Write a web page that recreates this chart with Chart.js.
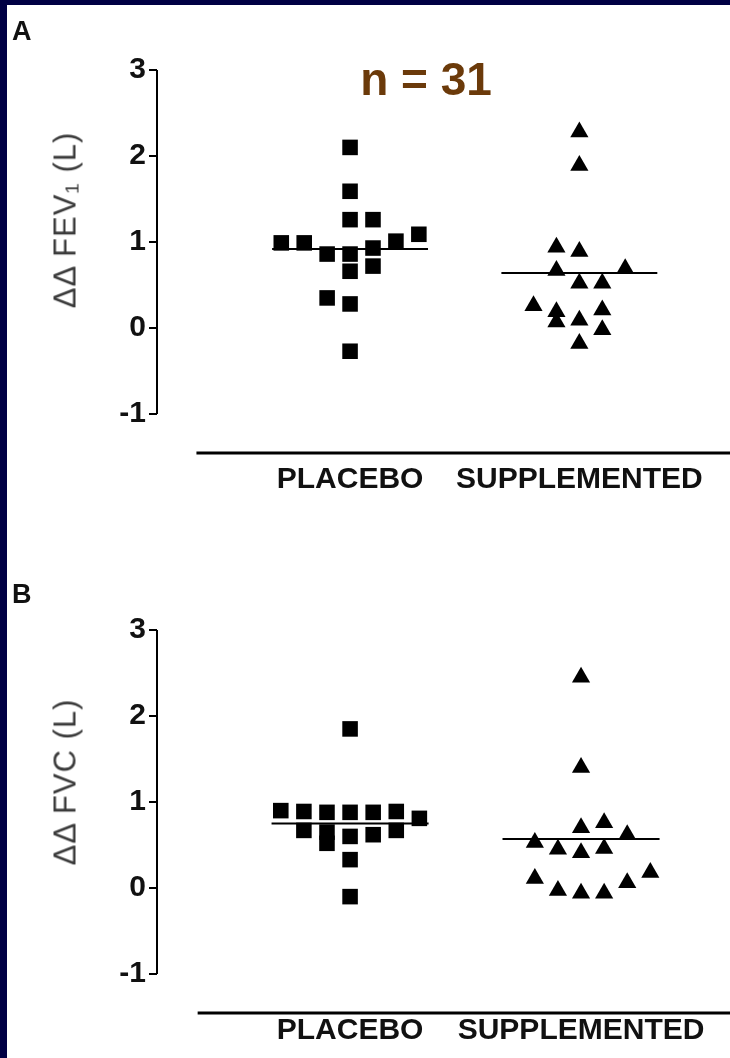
<!DOCTYPE html>
<html lang="en">
<head>
  <meta charset="UTF-8" />
  <title>FEV1 / FVC change</title>
  <script src="https://cdn.jsdelivr.net/npm/chart.js"></script>
  <style>
    body {
      margin: 0;
      background: #000044;
      font-family: "Liberation Sans", Arial, sans-serif;
    }
    #sheet {
      position: absolute;
      left: 7px;
      top: 5px;
      width: 723px;
      height: 1053px;
      background: #fff;
      overflow: hidden;
    }
    .panel { position: absolute; left: 0; }
    .tag {
      position: absolute;
      font-weight: bold;
      font-size: 27px;
      line-height: 1;
      color: #111;
    }
    .ytitle {
      position: absolute;
      white-space: nowrap;
      font-size: 31px;
      letter-spacing: 1px;
      line-height: 1;
      color: #3a3a3a;
      transform: translate(-50%, -50%) rotate(-90deg);
    }
    #nlabel {
      position: absolute;
      left: 319px;
      top: 51px;
      width: 200px;
      text-align: center;
      font-weight: bold;
      font-size: 46px;
      line-height: 1;
      color: #6b3a0a;
    }
  </style>
</head>
<body>
<div id="sheet">
  <canvas id="fevChart" class="panel" style="top:0" width="723" height="520"></canvas>
  <canvas id="fvcChart" class="panel" style="top:520px" width="723" height="533"></canvas>

  <div class="tag" style="left:5px; top:13px;">A</div>
  <div class="tag" style="left:5px; top:576px;">B</div>
  <div id="nlabel">n = 31</div>
  <div class="ytitle" style="left:58px; top:215px;">ΔΔ FEV₁ (L)</div>
  <div class="ytitle" style="left:58px; top:777px;">ΔΔ FVC (L)</div>
</div>

<script>
const groups = ["PLACEBO", "SUPPLEMENTED"];
const yTicks = [-1, 0, 1, 2, 3];

// panel A - FEV1 (x = group position + scatter offset)
const fevPlaceboX = [1.0, 1.0, 1.0, 1.1, 1.3, 0.7, 0.8, 1.2, 0.9, 1.0, 1.1, 1.1, 1.0, 0.9, 1.0, 1.0];
const fevPlaceboY = [2.10, 1.59, 1.26, 1.26, 1.09, 0.99, 0.99, 1.01, 0.86, 0.86, 0.93, 0.72, 0.66, 0.35, 0.28, -0.27];
const fevSuppX = [2.0, 2.0, 1.9, 2.0, 1.9, 2.2, 2.0, 2.1, 1.8, 1.9, 1.9, 2.1, 2.0, 2.1, 2.0];
const fevSuppY = [2.28, 1.89, 0.94, 0.89, 0.67, 0.69, 0.52, 0.52, 0.26, 0.19, 0.07, 0.21, 0.09, -0.02, -0.18];
const fevMeans = [0.92, 0.64];

// panel B - FVC
const fvcPlaceboX = [1.0, 0.7, 0.8, 0.9, 1.0, 1.1, 1.2, 1.3, 0.8, 0.9, 1.0, 1.1, 1.2, 0.9, 1.0, 1.0];
const fvcPlaceboY = [1.85, 0.90, 0.89, 0.88, 0.88, 0.88, 0.89, 0.81, 0.67, 0.65, 0.60, 0.62, 0.67, 0.52, 0.33, -0.10];
const fvcSuppX = [2.0, 2.0, 2.0, 2.1, 2.2, 1.8, 1.9, 2.0, 2.1, 1.8, 1.9, 2.0, 2.1, 2.2, 2.3];
const fvcSuppY = [2.45, 1.40, 0.70, 0.76, 0.62, 0.53, 0.45, 0.41, 0.46, 0.11, -0.03, -0.06, -0.06, 0.06, 0.18];
const fvcMeans = [0.75, 0.57];

const meanHalf = 0.34;

function pts(xs, ys) {
  return xs.map((x, i) => ({ x: x, y: ys[i] }));
}

// y axis only spans the tick range, the baseline stands apart from it (Prism style)
const axisLines = {
  id: 'axisLines',
  afterDraw(chart, args, opts) {
    const { ctx, chartArea, scales } = chart;
    ctx.save();
    ctx.strokeStyle = '#000';
    ctx.lineWidth = 2;
    ctx.beginPath();
    ctx.moveTo(chartArea.left, scales.y.getPixelForValue(yTicks[yTicks.length - 1]));
    ctx.lineTo(chartArea.left, scales.y.getPixelForValue(yTicks[0]));
    ctx.stroke();
    ctx.lineWidth = 3;
    ctx.beginPath();
    ctx.moveTo(scales.x.getPixelForValue(opts.baseStart), chartArea.bottom);
    ctx.lineTo(chart.width, chartArea.bottom);
    ctx.stroke();
    ctx.restore();
  }
};

function makePanel(id, placebo, supp, means, lay) {
  const meanSets = means.map((m, i) => ({
    data: [{ x: i + 1 - meanHalf, y: m }, { x: i + 1 + meanHalf, y: m }],
    showLine: true,
    borderColor: '#000',
    borderWidth: 2,
    pointRadius: 0,
    clip: false
  }));
  return new Chart(document.getElementById(id), {
    type: 'scatter',
    data: {
      datasets: [
        ...meanSets,
        {
          data: placebo,
          pointStyle: 'rect',
          pointRadius: 11,
          backgroundColor: '#000',
          borderWidth: 0,
          clip: false
        },
        {
          data: supp,
          pointStyle: 'triangle',
          pointRadius: 10.5,
          backgroundColor: '#000',
          borderWidth: 0,
          clip: false
        }
      ]
    },
    options: {
      responsive: false,
      animation: false,
      layout: { autoPadding: false, padding: { top: lay.top, left: 0, right: 0, bottom: 0 } },
      plugins: {
        legend: { display: false },
        tooltip: { enabled: false },
        axisLines: { baseStart: lay.baseStart }
      },
      scales: {
        x: {
          type: 'linear',
          min: lay.xMin,
          max: lay.xMax,
          afterFit: s => { s.height = lay.xHeight; },
          afterBuildTicks: s => { s.ticks = groups.map((g, i) => ({ value: i + 1 })); },
          border: { display: false },
          grid: { display: false, drawTicks: false },
          ticks: {
            autoSkip: false,
            maxRotation: 0,
            padding: lay.labelPad,
            color: '#111',
            font: { family: 'Liberation Sans', size: 30, weight: 'bold' },
            callback: (v, i) => groups[i]
          }
        },
        y: {
          min: -1.453,
          max: 3,
          afterFit: s => { s.width = 150; },
          afterBuildTicks: s => { s.ticks = yTicks.map(v => ({ value: v })); },
          border: { display: false },
          grid: {
            drawOnChartArea: false,
            drawTicks: true,
            tickLength: 8,
            color: '#000',
            lineWidth: 2
          },
          ticks: {
            padding: 3,
            color: '#111',
            font: { family: 'Liberation Sans', size: 30, weight: 'bold' }
          }
        }
      }
    },
    plugins: [axisLines]
  });
}

makePanel('fevChart', pts(fevPlaceboX, fevPlaceboY), pts(fevSuppX, fevSuppY), fevMeans,
  { top: 65, xMin: 0.158, xMax: 2.657, xHeight: 72, labelPad: 9, baseStart: 0.33 });
makePanel('fvcChart', pts(fvcPlaceboX, fvcPlaceboY), pts(fvcSuppX, fvcSuppY), fvcMeans,
  { top: 105, xMin: 0.164, xMax: 2.645, xHeight: 45, labelPad: 0, baseStart: 0.34 });
</script>
</body>
</html>
